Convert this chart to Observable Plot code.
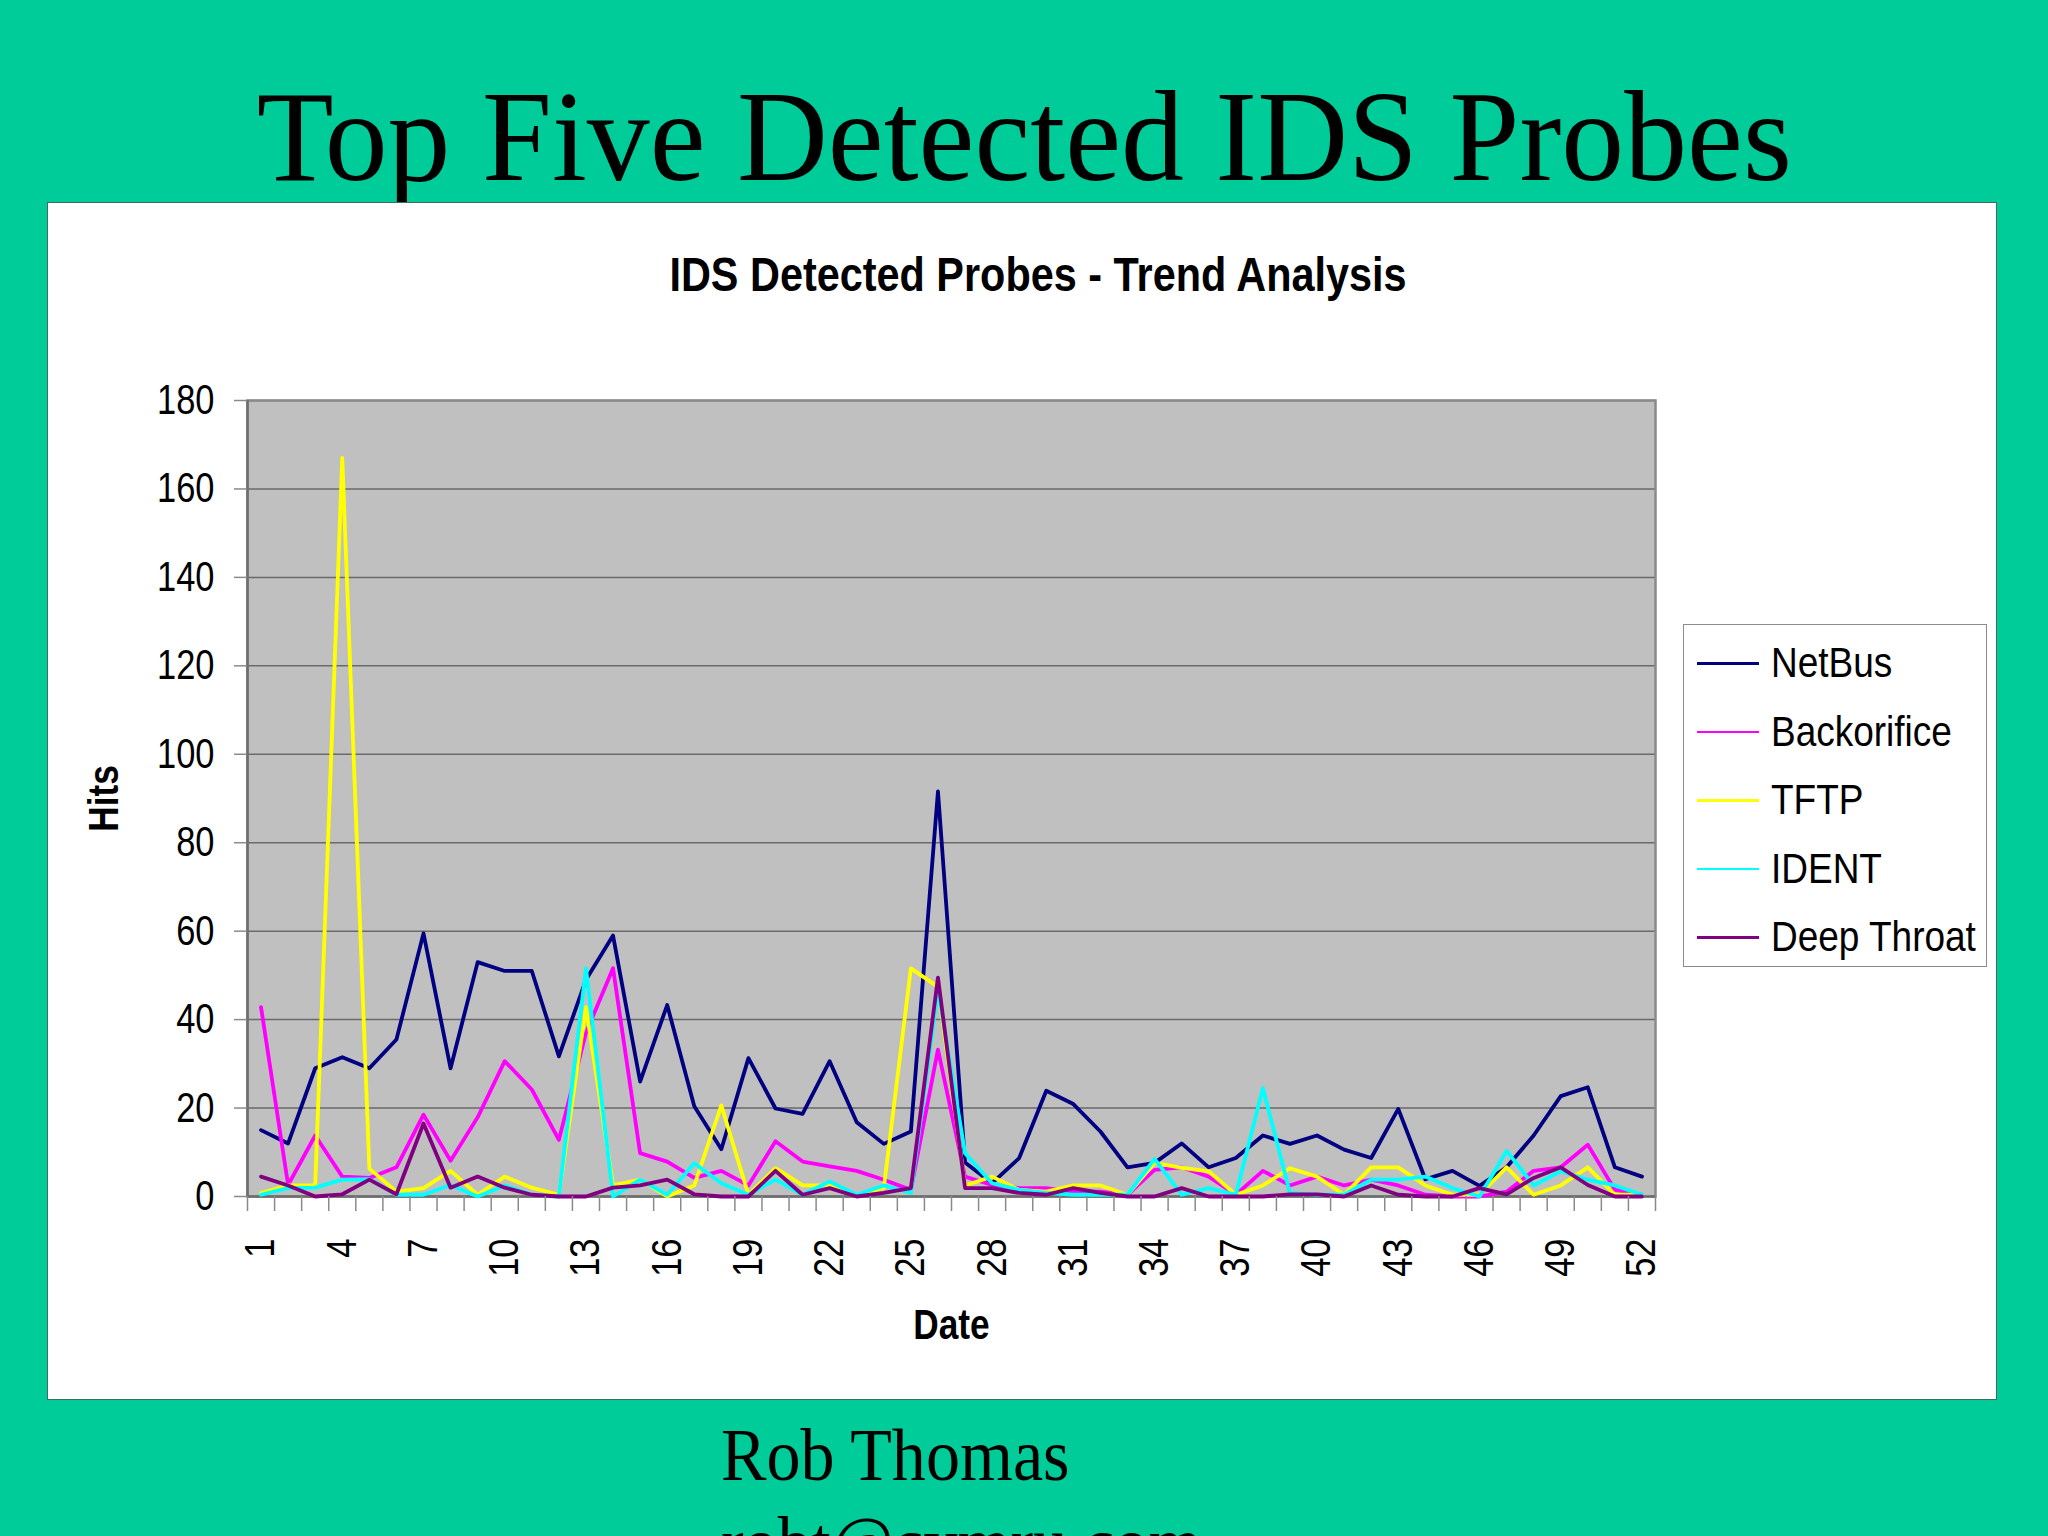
<!DOCTYPE html>
<html><head><meta charset="utf-8">
<script src="https://cdn.jsdelivr.net/npm/d3@7"></script>
<script src="https://cdn.jsdelivr.net/npm/@observablehq/plot@0.6"></script>
<style>
html,body{margin:0;padding:0;}
body{width:2048px;height:1536px;background:#00CC99;position:relative;overflow:hidden;font-family:"Liberation Sans",Arial,sans-serif;color:#000;}
.abs{position:absolute;white-space:nowrap;}
#title{left:0;width:2048px;top:72px;text-align:center;font-family:"Liberation Serif","Times New Roman",serif;font-size:129px;line-height:1;}
#title span{display:inline-block;transform:scaleX(0.975);}
#panel{left:47px;top:202px;width:1950px;height:1198px;background:#fff;border:1.5px solid #3d6b5e;box-sizing:border-box;}
#ctitle{left:1038px;top:250px;font-weight:bold;font-size:49px;line-height:1;transform:translateX(-50%) scaleX(0.845);}
#chart{left:60px;top:360px;}
#legend{left:1683px;top:624px;width:304px;height:343px;background:#fff;border:1.5px solid #8c8c8c;box-sizing:border-box;}
.lline{position:absolute;left:13px;width:62px;height:2.5px;}
.ltext{position:absolute;left:87px;font-size:43px;line-height:1;transform-origin:0 0;transform:scaleX(0.86);white-space:nowrap;}
.foot{left:721px;font-family:"Liberation Serif","Times New Roman",serif;font-size:74px;line-height:1;transform-origin:0 0;transform:scaleX(0.92);}
</style>
</head><body>
<div id="title" class="abs"><span>Top Five Detected IDS Probes</span></div>
<div id="panel" class="abs"></div>
<div id="ctitle" class="abs">IDS Detected Probes - Trend Analysis</div>
<div id="chart" class="abs"></div>
<div id="legend" class="abs"></div>
<div class="abs foot" style="top:1418px;">Rob Thomas</div>
<div class="abs foot" style="top:1506px;">robt@cymru.com</div>
<script>
const dates = [1,2,3,4,5,6,7,8,9,10,11,12,13,14,15,16,17,18,19,20,21,22,23,24,25,26,27,28,29,30,31,32,33,34,35,36,37,38,39,40,41,42,43,44,45,46,47,48,49,50,51,52];
const dateTicks = [1,4,7,10,13,16,19,22,25,28,31,34,37,40,43,46,49,52];
const hitTicks = [0,20,40,60,80,100,120,140,160,180];

const netbus = [15,12,29,31.5,29,35.5,59.5,29,53,51,51,31.7,49,59,26,43.3,20.4,10.7,31.3,19.9,18.7,30.6,16.8,11.9,14.7,91.6,7.7,3,8.7,23.9,20.9,14.7,6.6,7.6,12,6.6,8.7,13.8,11.9,13.8,10.6,8.7,19.8,3.9,5.8,2.4,6.6,13.8,22.7,24.7,6.6,4.5];
const backorifice = [42.8,2.6,13.8,4.5,4.2,6.6,18.5,8.1,17.9,30.6,24.2,12.8,37,51.6,9.8,7.9,4.2,5.8,2.5,12.5,7.9,6.8,5.8,3.8,1.5,33.2,4.5,2.6,1.9,1.9,1.1,1.1,0.4,6,6.6,4.5,0.4,5.8,2.5,4.5,2.5,3.8,2.5,0.4,0,0,1.1,5.8,6.6,11.7,1.5,0.4];
const tftp = [0.8,2.5,2.5,167,6.3,1.1,1.9,5.8,0.4,4.5,2,0.4,42.8,2.5,3.8,0,2.5,20.6,0.4,6.4,2.5,2.5,0.4,1.9,51.6,47.4,2.5,4.5,1.5,1.1,2.5,2.5,0.4,7.6,6.5,5.7,0.4,2.5,6.4,4.5,0.4,6.6,6.6,2.5,0.4,0.4,6.6,0.4,2.5,6.6,0.4,0.4];
const ident = [0.4,1.9,2,3.8,3.9,0.4,0.4,2.6,0,2.5,0.4,0,51.6,0,3.8,0.4,7.5,3,0.4,3.8,0.4,3.4,0.4,2.5,0.8,47,9.8,3,1.5,0.8,0.4,0.4,0.4,8.5,0.4,1.9,0.4,24.5,0.8,0.4,0.4,3.8,3.8,4.5,1.9,0,10.3,2.5,5.7,3.8,2.5,0.4];
const deepThroat = [4.5,2.5,0,0.5,3.8,0.5,16.5,2,4.5,2,0.4,0,0,2,2.5,3.8,0.5,0,0,5.8,0.4,1.9,0,0.8,1.9,49.5,1.9,1.9,0.8,0.4,1.9,0.8,0,0,1.9,0,0,0,0.5,0.5,0,2.5,0.4,0,0,1.9,0.5,4.2,6.6,2.6,0,0];

const seriesNames = ["NetBus","Backorifice","TFTP","IDENT","Deep Throat"];
const seriesColors = ["#000080","#FF00FF","#FFFF00","#00FFFF","#800080"];
const seriesValues = [netbus, backorifice, tftp, ident, deepThroat];

const boundaries = dates.map(d => d - 0.5).concat([dates[dates.length-1] + 0.5]);

const chart = Plot.plot({
  width: 1620,
  height: 1026,
  marginLeft: 187,
  marginRight: 25,
  marginTop: 40,
  marginBottom: 190,
  x: {domain: [0.5, 52.5]},
  y: {domain: [0, 180]},
  style: {background: "transparent", fontFamily: "Liberation Sans, Arial, sans-serif", fontSize: "42px", color: "black", overflow: "visible"},
  marks: [
    Plot.frame({fill: "#C0C0C0", stroke: null}),
    Plot.gridY(hitTicks, {stroke: "#6a6a6a", strokeOpacity: 1, strokeWidth: 1.5}),
    Plot.frame({stroke: "#8a8a8a", strokeWidth: 2.5}),
    Plot.ruleX([0.5], {stroke: "#6e6e6e", strokeWidth: 2.5}),
    Plot.ruleY([0], {stroke: "#6e6e6e", strokeWidth: 2.5}),
    ...seriesValues.map((vals, k) => Plot.line(dates, {x: d => d, y: (d, i) => vals[i], stroke: seriesColors[k], strokeWidth: 3.8})),
    Plot.axisY({ticks: hitTicks, tickSize: 13, tickFormat: () => "", stroke: "#8a8a8a", strokeWidth: 1.5, label: null}),
    Plot.axisY({ticks: hitTicks, tickSize: 0, tickPadding: 33, label: "Hits", labelAnchor: "center", labelOffset: 160, labelArrow: "none"}),
    Plot.axisX({ticks: boundaries, tickSize: 15, tickFormat: () => "", stroke: "#8a8a8a", strokeWidth: 1.5, label: null}),
    Plot.axisX({ticks: dateTicks, tickSize: 0, tickPadding: 42, tickRotate: -90, label: "Date", labelAnchor: "center", labelOffset: 142, labelArrow: "none"})
  ]
});
document.getElementById("chart").appendChild(chart);

// bold axis titles
d3.select(chart).selectAll('g[aria-label="x-axis label"] text, g[aria-label="y-axis label"] text')
  .attr("font-weight", "bold").attr("font-size", "43px");
// condensed look of the original chart fonts
d3.select(chart).selectAll("text").each(function() {
  const t = this.getAttribute("transform");
  if (t) {
    this.setAttribute("transform", t + " scale(0.82,1)");
  } else {
    const x = +(this.getAttribute("x") || 0);
    this.setAttribute("x", 0);
    this.setAttribute("transform", `translate(${x},0) scale(0.82,1)`);
  }
});

// legend
const legend = document.getElementById("legend");
seriesNames.forEach((name, k) => {
  const ln = document.createElement("div");
  ln.className = "lline";
  ln.style.top = (37 + k * 68.6) + "px";
  ln.style.background = seriesColors[k];
  legend.appendChild(ln);
  const tx = document.createElement("div");
  tx.className = "ltext";
  tx.style.top = (16 + k * 68.6) + "px";
  tx.textContent = name;
  legend.appendChild(tx);
});
</script>
</body></html>
